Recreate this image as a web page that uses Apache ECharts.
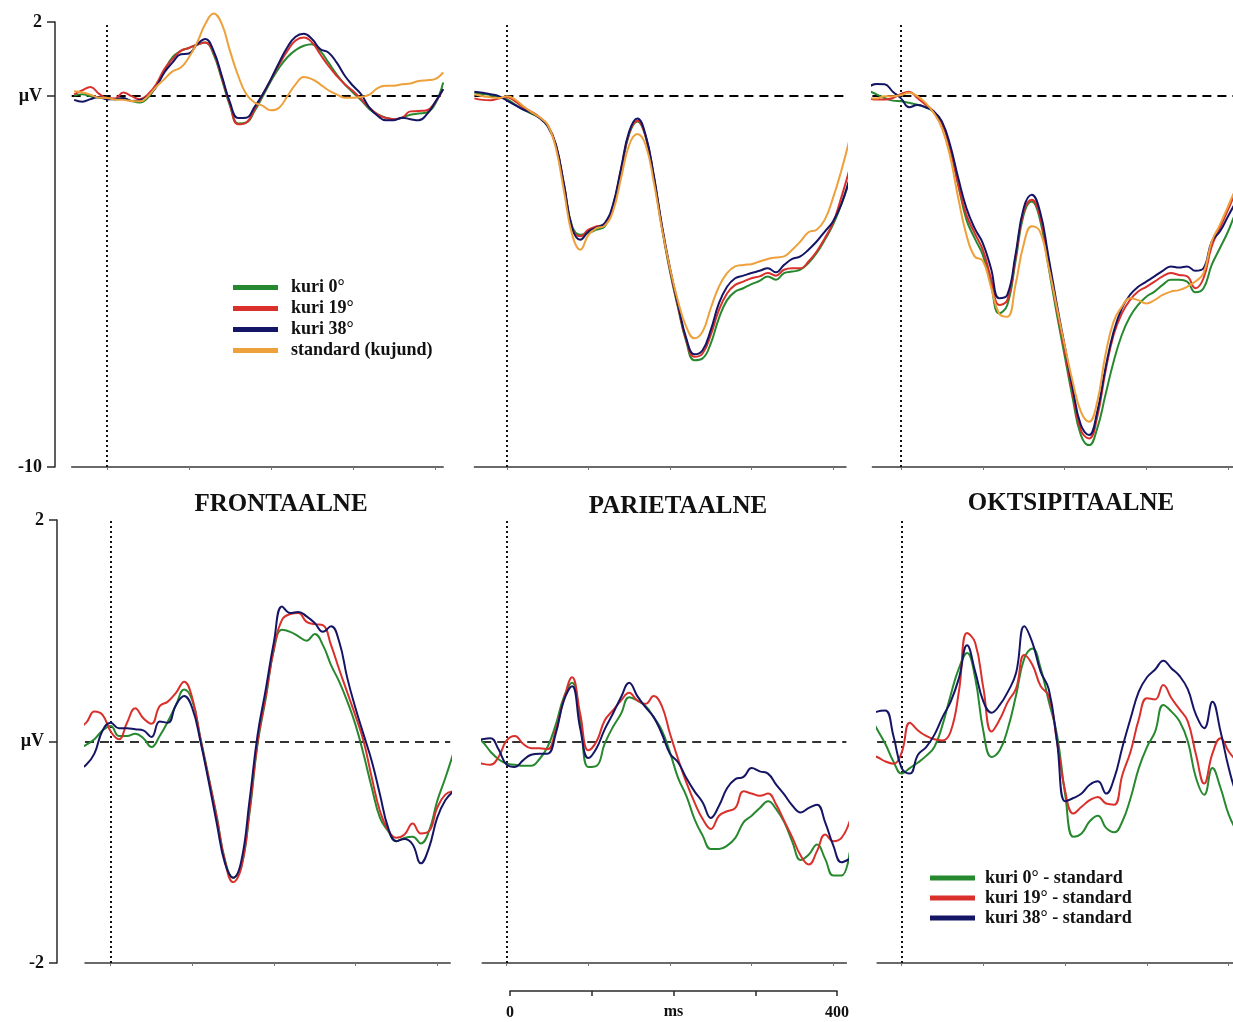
<!DOCTYPE html>
<html><head><meta charset="utf-8">
<script src="https://cdn.jsdelivr.net/npm/echarts@6/dist/echarts.min.js"></script>
<style>html,body{margin:0;padding:0;background:#fff}#c{width:1233px;height:1022px}</style>
</head><body><div id="c"></div>
<script>
// ---------- DATA ----------
const TIME_MS = [-40,-30,-20,-10,0,10,20,30,40,50,60,70,80,90,100,110,120,130,140,150,160,170,180,190,200,210,220,230,240,250,260,270,280,290,300,310,320,330,340,350,360,370,380,390,400,410,420];
const TOP_NAMES = ['kuri 0°','kuri 19°','kuri 38°','standard (kujund)'];
const DIFF_NAMES = ['kuri 0° - standard','kuri 19° - standard','kuri 38° - standard'];
const REGION_TITLES = ['FRONTAALNE','PARIETAALNE','OKTSIPITAALNE'];
const Y_TICKS_TOP = [-10, 0, 2];
const Y_TICKS_DIFF = [-2, 0, 2];
const X_TICKS = [0, 100, 200, 300, 400];
const SCALE_TICKS = [0, 100, 200, 300, 400];
const SCALE_LABELS = [0, 400];

// Top row: ERPs (µV), frontal
const FRONT_K0  = [0.01,0.05,0,-0.04,-0.05,-0.08,-0.06,-0.13,-0.17,-0.04,0.28,0.68,1.05,1.22,1.3,1.39,1.45,1.13,0.46,-0.26,-0.74,-0.71,-0.4,0,0.41,0.77,1.05,1.24,1.36,1.4,1.22,0.91,0.59,0.32,0.1,-0.11,-0.35,-0.49,-0.58,-0.62,-0.58,-0.5,-0.47,-0.44,-0.22,0.37];
const FRONT_K19 = [0.05,0.16,0.25,0.07,-0.05,-0.06,0.1,0,-0.08,0.05,0.32,0.73,1.0,1.22,1.3,1.39,1.45,1.18,0.5,-0.22,-0.76,-0.71,-0.35,0.05,0.46,0.86,1.22,1.5,1.58,1.45,1.13,0.82,0.55,0.32,0.14,-0.08,-0.31,-0.49,-0.59,-0.62,-0.58,-0.41,-0.4,-0.38,-0.17,0.19];
const FRONT_K38 = [-0.1,-0.15,-0.08,-0.02,-0.08,-0.08,-0.05,-0.13,-0.11,0,0.25,0.64,0.91,1.13,1.15,1.4,1.54,1.22,0.55,-0.17,-0.59,-0.58,-0.29,0.05,0.46,0.91,1.32,1.6,1.68,1.54,1.27,1.18,0.91,0.55,0.28,0.05,-0.31,-0.53,-0.65,-0.65,-0.58,-0.62,-0.65,-0.49,-0.17,0.19];
const FRONT_STD = [0.13,0.1,0.04,-0.04,-0.05,-0.09,-0.1,-0.13,-0.14,0,0.25,0.46,0.67,0.77,1.05,1.45,1.95,2.23,1.95,1.22,0.55,0.05,-0.17,-0.26,-0.38,-0.31,0,0.32,0.52,0.46,0.32,0.16,0.05,-0.04,-0.04,-0.02,0.04,0.22,0.28,0.28,0.32,0.34,0.41,0.43,0.46,0.64];
// parietal
const PAR_K0  = [0.09,0.06,0.03,-0.03,-0.09,-0.23,-0.36,-0.47,-0.59,-0.81,-1.32,-2.43,-3.51,-3.74,-3.69,-3.6,-3.51,-3,-2.01,-1.02,-0.68,-1.08,-2.16,-3.54,-4.73,-5.72,-6.62,-7.12,-7.07,-6.67,-5.99,-5.5,-5.27,-5.18,-5.07,-4.98,-4.86,-4.95,-4.77,-4.73,-4.68,-4.5,-4.23,-3.87,-3.47,-2.93,-2.3];
const PAR_K19 = [-0.06,-0.1,-0.11,-0.06,-0.03,-0.14,-0.3,-0.42,-0.57,-0.78,-1.31,-2.39,-3.56,-3.78,-3.6,-3.51,-3.47,-2.97,-1.98,-0.99,-0.66,-1.08,-2.16,-3.51,-4.68,-5.68,-6.58,-7.03,-6.94,-6.44,-5.77,-5.32,-5.09,-5,-4.91,-4.86,-4.77,-4.84,-4.68,-4.64,-4.64,-4.46,-4.19,-3.83,-3.42,-2.75,-2.0];
const PAR_K38 = [0.12,0.09,0.05,0,-0.12,-0.24,-0.36,-0.45,-0.59,-0.81,-1.31,-2.39,-3.56,-3.87,-3.65,-3.54,-3.42,-2.93,-1.94,-0.95,-0.6,-1.04,-2.12,-3.47,-4.64,-5.63,-6.53,-6.96,-6.85,-6.31,-5.59,-5.14,-4.91,-4.84,-4.77,-4.71,-4.64,-4.75,-4.55,-4.39,-4.32,-4.14,-3.92,-3.65,-3.38,-2.93,-2.25];
const PAR_STD = [0.05,0,-0.03,-0.05,0,-0.09,-0.27,-0.43,-0.57,-0.78,-1.4,-2.57,-3.74,-4.14,-3.74,-3.56,-3.49,-3.11,-2.21,-1.31,-1.02,-1.31,-2.3,-3.56,-4.64,-5.54,-6.22,-6.53,-6.35,-5.72,-5.14,-4.77,-4.59,-4.55,-4.53,-4.46,-4.39,-4.35,-4.32,-4.14,-3.92,-3.67,-3.6,-3.33,-2.75,-2.03,-1.2];
// occipital
const OCC_K0  = [0.15,0.05,-0.05,-0.12,-0.14,-0.18,-0.23,-0.3,-0.42,-0.72,-1.4,-2.39,-3.33,-3.83,-4.28,-5.09,-5.86,-5.63,-4.46,-3.2,-2.84,-3.33,-4.55,-5.81,-6.98,-8.15,-9.14,-9.41,-8.96,-8.06,-7.16,-6.44,-5.95,-5.63,-5.41,-5.27,-5.09,-4.95,-4.95,-5,-5.29,-5.18,-4.55,-4.1,-3.65,-3.11,-2.7];
const OCC_K19 = [-0.06,-0.09,-0.09,-0.05,0.06,0.12,-0.05,-0.23,-0.41,-0.72,-1.4,-2.39,-3.2,-3.69,-4.14,-4.91,-5.63,-5.5,-4.37,-3.11,-2.79,-3.24,-4.46,-5.68,-6.85,-8.02,-9.01,-9.23,-8.65,-7.43,-6.44,-5.86,-5.5,-5.27,-5.14,-5,-4.86,-4.77,-4.82,-4.86,-5.18,-4.91,-4.05,-3.56,-3.06,-2.57,-2.2];
const OCC_K38 = [0.24,0.33,0.32,0.12,-0.06,-0.3,-0.24,-0.3,-0.41,-0.68,-1.31,-2.21,-3.02,-3.56,-3.96,-4.64,-5.45,-5.36,-4.28,-3.02,-2.66,-3.11,-4.28,-5.54,-6.71,-7.88,-8.87,-9.14,-8.51,-7.34,-6.35,-5.72,-5.36,-5.14,-5,-4.86,-4.71,-4.59,-4.62,-4.59,-4.71,-4.64,-3.92,-3.65,-3.24,-2.84,-2.5];
const OCC_STD = [-0.05,-0.06,0,0,0.03,0.09,0,-0.18,-0.45,-0.86,-1.62,-2.75,-3.74,-4.32,-4.44,-5.14,-5.86,-5.95,-5.09,-4.0,-3.51,-3.65,-4.55,-5.63,-6.71,-7.7,-8.51,-8.78,-8.24,-6.98,-6.08,-5.68,-5.45,-5.5,-5.59,-5.5,-5.36,-5.27,-5.23,-5.14,-5,-4.77,-3.92,-3.47,-2.97,-2.48,-2.1];

// Bottom row: difference waves (µV)
const FRONT_D0  = [-0.06,-0.03,0.02,0.1,0.14,0.05,0.05,0.07,0.03,-0.05,0.05,0.18,0.33,0.47,0.37,0.03,-0.32,-0.68,-1.07,-1.23,-1.13,-0.65,-0.02,0.39,0.83,1.01,0.99,0.95,0.91,0.97,0.87,0.69,0.54,0.36,0.15,-0.12,-0.42,-0.69,-0.81,-0.9,-0.87,-0.86,-0.92,-0.81,-0.54,-0.33,-0.1];
const FRONT_D19 = [0.12,0.17,0.27,0.24,0.09,0.02,0.17,0.3,0.21,0.16,0.32,0.36,0.44,0.54,0.39,0.02,-0.33,-0.69,-1.08,-1.27,-1.14,-0.63,0,0.41,0.84,1.1,1.15,1.16,1.08,1.06,1.05,0.87,0.65,0.44,0.23,0,-0.33,-0.63,-0.8,-0.87,-0.84,-0.74,-0.83,-0.81,-0.6,-0.48,-0.45];
const FRONT_D38 = [-0.25,-0.21,-0.11,0.1,0.17,0.12,0.12,0.11,0.1,0.04,0.18,0.17,0.33,0.41,0.3,0,-0.36,-0.74,-1.1,-1.23,-1.08,-0.54,0.06,0.47,0.9,1.22,1.16,1.17,1.13,1.07,0.99,1.04,0.9,0.57,0.3,0.06,-0.18,-0.48,-0.78,-0.9,-0.88,-0.93,-1.1,-0.96,-0.69,-0.53,-0.45];
const PAR_D0  = [0.05,0,-0.09,-0.16,-0.2,-0.21,-0.22,-0.22,-0.16,-0.05,0.15,0.4,0.53,0.19,-0.23,-0.22,-0.02,0.13,0.25,0.4,0.37,0.32,0.22,0.1,-0.1,-0.33,-0.49,-0.7,-0.85,-0.97,-0.97,-0.94,-0.87,-0.73,-0.67,-0.6,-0.54,-0.61,-0.73,-0.91,-1.07,-1.02,-0.93,-1.06,-1.21,-1.21,-1.0];
const PAR_D19 = [-0.18,-0.2,-0.21,-0.14,0.01,0.05,-0.02,-0.06,-0.06,-0.07,0.1,0.38,0.58,0.25,-0.08,0,0.19,0.28,0.37,0.44,0.37,0.34,0.41,0.32,0.07,-0.16,-0.37,-0.55,-0.7,-0.79,-0.67,-0.63,-0.6,-0.45,-0.47,-0.49,-0.47,-0.57,-0.72,-0.87,-1.03,-1.11,-0.99,-0.84,-0.9,-0.87,-0.72];
const PAR_D38 = [0,0.02,0.03,-0.07,-0.21,-0.23,-0.17,-0.12,-0.11,-0.11,0.07,0.37,0.5,0.12,-0.15,-0.06,0.11,0.25,0.4,0.53,0.41,0.31,0.22,0.07,-0.11,-0.19,-0.33,-0.45,-0.55,-0.69,-0.58,-0.42,-0.34,-0.32,-0.24,-0.27,-0.29,-0.39,-0.48,-0.58,-0.64,-0.6,-0.57,-0.73,-0.94,-1.09,-1.06];
const OCC_D0  = [0.25,0.11,-0.02,-0.18,-0.29,-0.24,-0.19,-0.13,-0.05,0.15,0.42,0.66,0.8,0.57,0.09,-0.14,-0.08,0.12,0.42,0.75,0.84,0.66,0.36,0.06,-0.48,-0.86,-0.83,-0.72,-0.67,-0.78,-0.82,-0.72,-0.51,-0.24,-0.05,0.09,0.33,0.27,0.18,0,-0.33,-0.48,-0.24,-0.42,-0.66,-0.81,-0.9];
const OCC_D19 = [-0.12,-0.14,-0.18,-0.2,-0.1,0.17,0.1,0.05,0.02,0.01,0.09,0.45,0.98,0.89,0.48,0.09,0.2,0.36,0.48,0.78,0.69,0.5,0.41,0,-0.45,-0.65,-0.59,-0.53,-0.5,-0.56,-0.57,-0.3,-0.09,0.2,0.39,0.38,0.51,0.39,0.29,0.18,-0.12,-0.38,-0.11,0.03,-0.09,-0.18,-0.25];
const OCC_D38 = [0.22,0.27,0.28,0.05,-0.24,-0.29,-0.12,-0.05,0.06,0.22,0.36,0.57,0.87,0.63,0.36,0.26,0.33,0.45,0.62,1.04,0.89,0.63,0.47,0,-0.54,-0.51,-0.47,-0.39,-0.36,-0.47,-0.33,-0.05,0.21,0.45,0.58,0.65,0.73,0.66,0.59,0.47,0.24,0.12,0.36,0.09,-0.24,-0.48,-0.6];

// ---------- STYLE / LAYOUT ----------
const COLORS = ['#27892f', '#d9302c', '#151565', '#eea03a'];
const SERIF = "'Liberation Serif', 'Times New Roman', serif";

const PANELS = [
  { grid:{left:71.7, top:22, width:371.5, height:445}, x:[-43,410], y:[-10,2], yAxisShow:true, yOffset:16.7, yTicks:Y_TICKS_TOP, names:TOP_NAMES, sets:[FRONT_K0,FRONT_K19,FRONT_K38,FRONT_STD], clip:false, zeroColor:'#000' },
  { grid:{left:474.4, top:22, width:371.6, height:445}, x:[-40,416], y:[-10,2], yAxisShow:false, names:TOP_NAMES, sets:[PAR_K0,PAR_K19,PAR_K38,PAR_STD], clip:true, zeroColor:'#000' },
  { grid:{left:872.4, top:22, width:372, height:445}, x:[-35,420], y:[-10,2], yAxisShow:false, names:TOP_NAMES, sets:[OCC_K0,OCC_K19,OCC_K38,OCC_STD], clip:true, zeroColor:'#000' },
  { grid:{left:85, top:520, width:365.2, height:443}, x:[-31.5,416], y:[-2,2], yAxisShow:true, yOffset:28, yTicks:Y_TICKS_DIFF, names:DIFF_NAMES, sets:[FRONT_D0,FRONT_D19,FRONT_D38], clip:true, zeroColor:'#333' },
  { grid:{left:482.2, top:520, width:364.2, height:443}, x:[-30,416], y:[-2,2], yAxisShow:false, names:DIFF_NAMES, sets:[PAR_D0,PAR_D19,PAR_D38], clip:true, zeroColor:'#333' },
  { grid:{left:877.1, top:520, width:368, height:443}, x:[-30,420], y:[-2,2], yAxisShow:false, names:DIFF_NAMES, sets:[OCC_D0,OCC_D19,OCC_D38], clip:true, zeroColor:'#333' }
];

const grids = [], xAxes = [], yAxes = [], series = [];
PANELS.forEach((p, i) => {
  grids.push(Object.assign({outerBoundsMode:'none', containLabel:false}, p.grid));
  xAxes.push({
    type:'value', gridIndex:i, min:p.x[0], max:p.x[1],
    axisLine:{show:true, onZero:false, lineStyle:{color:'#3a3a3a', width:1.5}},
    axisTick:{show:true, customValues:X_TICKS, length:3, lineStyle:{color:'#777', width:1}},
    axisLabel:{show:false}, splitLine:{show:false}
  });
  yAxes.push({
    type:'value', gridIndex:i, min:p.y[0], max:p.y[1], show:p.yAxisShow,
    offset:p.yOffset || 0,
    axisLine:{show:true, onZero:false, lineStyle:{color:'#2a2a2a', width:1.5}},
    axisTick:{show:true, customValues:p.yTicks, length:8, lineStyle:{color:'#2a2a2a', width:1.5}},
    axisLabel:{show:true, customValues:p.yTicks, margin:13,
      formatter:(v)=> v === 0 ? 'µV' : String(v),
      fontFamily:SERIF, fontWeight:'bold', fontSize:18, color:'#111'},
    splitLine:{show:false}
  });
  p.sets.forEach((vals, k) => {
    const s = {
      type:'line', name:p.names[k], xAxisIndex:i, yAxisIndex:i,
      data: vals.map((v, j) => [TIME_MS[j], v]),
      smooth:0.45, showSymbol:false, symbol:'none', clip:p.clip,
      color:COLORS[k], lineStyle:{color:COLORS[k], width:2}, z:3
    };
    if (k === 0) {
      s.markLine = {
        silent:true, symbol:'none', label:{show:false}, z:2,
        data:[
          {yAxis:0, lineStyle:{type:[9,6], color:p.zeroColor, width:2}},
          {xAxis:0, lineStyle:{type:[2,3], color:'#111', width:2}}
        ]
      };
    }
    series.push(s);
  });
});

// time scale bar
grids.push({left:510, top:960, width:327, height:31, outerBoundsMode:'none', containLabel:false});
xAxes.push({
  type:'value', gridIndex:6, min:0, max:400, interval:100, position:'bottom',
  axisLine:{show:true, onZero:false, lineStyle:{color:'#2a2a2a', width:1.5}},
  axisTick:{show:true, inside:false, customValues:SCALE_TICKS, length:5, lineStyle:{color:'#2a2a2a', width:1.5}},
  axisLabel:{show:true, customValues:SCALE_LABELS, margin:14, fontFamily:SERIF, fontWeight:'bold', fontSize:16, color:'#111'},
  splitLine:{show:false},
  name:'ms', nameLocation:'middle', nameGap:13, nameMoveOverlap:false,
  nameTextStyle:{fontFamily:SERIF, fontWeight:'bold', fontSize:16, color:'#111'}
});
yAxes.push({type:'value', gridIndex:6, min:0, max:1, show:false});

const titleX = [281, 678, 1071];
const titleY = [505, 507, 504];

const option = {
  backgroundColor:'#fff',
  animation:false,
  grid:grids, xAxis:xAxes, yAxis:yAxes, series:series,
  legend:[
    { data:TOP_NAMES, orient:'vertical', left:233, top:277, padding:0, icon:'rect', itemWidth:45, itemHeight:5, itemGap:0,
      selectedMode:false,
      textStyle:{fontFamily:SERIF, fontWeight:'bold', fontSize:18, color:'#111', lineHeight:21, padding:[0,0,0,8]} },
    { data:DIFF_NAMES, orient:'vertical', left:930, top:868, padding:0, icon:'rect', itemWidth:45, itemHeight:5, itemGap:0,
      selectedMode:false,
      textStyle:{fontFamily:SERIF, fontWeight:'bold', fontSize:18, color:'#111', lineHeight:20, padding:[0,0,0,5]} }
  ],
  graphic: REGION_TITLES.map((t, i) => ({
    type:'text', x:titleX[i], y:titleY[i],
    style:{text:t, font:"bold 25px " + SERIF, fill:'#111', textAlign:'center', textVerticalAlign:'middle'}
  }))
};

const chart = echarts.init(document.getElementById('c'), null, {renderer:'canvas'});
chart.setOption(option);
</script>
</body></html>
